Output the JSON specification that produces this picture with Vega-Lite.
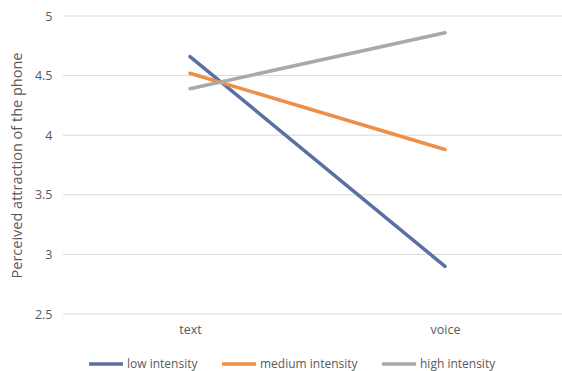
{
  "$schema": "https://vega.github.io/schema/vega-lite/v6.json",
  "width": 499,
  "height": 298,
  "autosize": {"type": "none"},
  "padding": {"left": 63, "top": 16, "right": 0, "bottom": 57},
  "background": "white",
  "config": {
    "view": {"stroke": null},
    "font": "Open Sans",
    "axis": {
      "labelFont": "Open Sans",
      "titleFont": "Open Sans",
      "labelColor": "#595959",
      "titleColor": "#595959",
      "labelFontSize": 12.5,
      "titleFontSize": 14.5,
      "titleFontWeight": "normal",
      "ticks": false,
      "domain": false,
      "grid": false
    },
    "legend": {
      "labelFont": "Open Sans",
      "labelColor": "#595959",
      "labelFontSize": 12
    }
  },
  "layer": [
    {
      "data": {"values": [{"level": 2.5}, {"level": 3}, {"level": 3.5}, {"level": 4}, {"level": 4.5}, {"level": 5}]},
      "mark": {"type": "rule", "color": "#d9d9d9", "strokeWidth": 1},
      "encoding": {
        "y": {"field": "level", "type": "quantitative"}
      }
    },
    {
      "data": {
        "values": [
          {"mode": "text", "intensity": "low intensity", "attraction": 4.66},
          {"mode": "voice", "intensity": "low intensity", "attraction": 2.9},
          {"mode": "text", "intensity": "medium intensity", "attraction": 4.52},
          {"mode": "voice", "intensity": "medium intensity", "attraction": 3.88},
          {"mode": "text", "intensity": "high intensity", "attraction": 4.39},
          {"mode": "voice", "intensity": "high intensity", "attraction": 4.86}
        ]
      },
      "mark": {"type": "line", "strokeWidth": 3.5, "strokeCap": "round"},
      "encoding": {
        "x": {
          "field": "mode",
          "type": "nominal",
          "sort": ["text", "voice"],
          "scale": {"type": "point", "range": [127, 382], "padding": 0},
          "axis": {"title": null, "labelAngle": 0, "labelPadding": 9}
        },
        "y": {
          "field": "attraction",
          "type": "quantitative",
          "scale": {"domain": [2.5, 5], "nice": false, "zero": false},
          "axis": {
            "title": "Perceived attraction of the phone",
            "values": [2.5, 3, 3.5, 4, 4.5, 5],
            "format": "~g",
            "labelPadding": 11,
            "titlePadding": 10
          }
        },
        "color": {
          "field": "intensity",
          "type": "nominal",
          "sort": ["low intensity", "medium intensity", "high intensity"],
          "scale": {
            "domain": ["low intensity", "medium intensity", "high intensity"],
            "range": ["#5b6fa3", "#ee8f47", "#a9a9a9"]
          },
          "legend": {
            "title": null,
            "orient": "none",
            "direction": "horizontal",
            "legendX": 24,
            "legendY": 329,
            "symbolType": "stroke",
            "symbolSize": 1150,
            "symbolStrokeWidth": 3.5,
            "labelOffset": 2,
            "columnPadding": 17
          }
        }
      }
    }
  ]
}
